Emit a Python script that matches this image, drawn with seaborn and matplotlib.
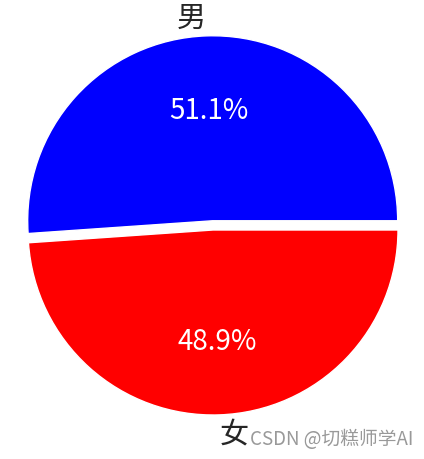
import matplotlib
matplotlib.use("Agg")
import matplotlib.pyplot as plt
import seaborn as sns

sns.set_theme(style="white")
plt.rcParams['font.family'] = ['Noto Sans CJK SC', 'DejaVu Sans']

labels = ['男', '女']
values = [51.1, 48.9]
colors = ['blue', 'red']
explode = [0.05, 0]

fig = plt.figure(figsize=(4.24, 4.6), dpi=100)
ax = fig.add_axes([0, 0, 1, 1])
wedges, texts, autotexts = ax.pie(values, labels=labels, colors=colors, explode=explode,
                                  autopct='%.1f%%', startangle=0,
                                  textprops={'fontsize': 21})
for t in autotexts:
    t.set_color('white')
    t.set_fontsize(20)
ax.set_aspect('equal')
ax.set_xlim(-213/185, (424-213)/185)
ax.set_ylim(-(460-231)/185, 231/185)
ax.axis('off')
fig.text(250/424, 1-440/460, 'CSDN @切糕师学AI', color='#999999', fontsize=13.5, va='center', ha='left')
fig.savefig('out.png', dpi=100)
